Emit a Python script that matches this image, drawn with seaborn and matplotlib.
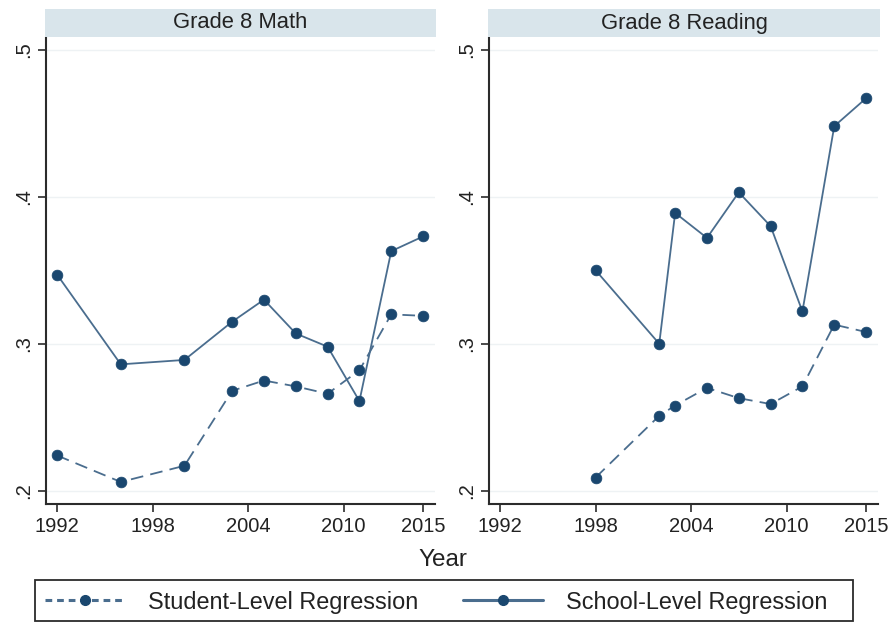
import matplotlib
matplotlib.use("Agg")
import matplotlib.pyplot as plt
from matplotlib.lines import Line2D
from matplotlib.patches import Rectangle
import pandas as pd
import seaborn as sns

# NAEP grade 8 estimates by year
math_years = [1992, 1996, 2000, 2003, 2005, 2007, 2009, 2011, 2013, 2015]
math_student = [0.224, 0.206, 0.217, 0.268, 0.275, 0.271, 0.266, 0.282, 0.320, 0.319]
math_school = [0.347, 0.286, 0.289, 0.315, 0.330, 0.307, 0.298, 0.261, 0.363, 0.373]

reading_years = [1998, 2002, 2003, 2005, 2007, 2009, 2011, 2013, 2015]
reading_student = [0.209, 0.251, 0.258, 0.270, 0.263, 0.259, 0.271, 0.313, 0.308]
reading_school = [0.350, 0.300, 0.389, 0.372, 0.403, 0.380, 0.322, 0.448, 0.467]

panels = ["Grade 8 Math", "Grade 8 Reading"]
series = ["Student-Level Regression", "School-Level Regression"]
x_ticks = [1992, 1998, 2004, 2010, 2015]
y_ticks = [0.2, 0.3, 0.4, 0.5]
y_ticklabels = [".2", ".3", ".4", ".5"]

rows = []
for panel, yrs, stu, sch in [
    (panels[0], math_years, math_student, math_school),
    (panels[1], reading_years, reading_student, reading_school),
]:
    for y, v in zip(yrs, stu):
        rows.append({"panel": panel, "Year": y, "series": series[0], "value": v})
    for y, v in zip(yrs, sch):
        rows.append({"panel": panel, "Year": y, "series": series[1], "value": v})
df = pd.DataFrame(rows)

sns.set_theme(style="white")
plt.rcParams["font.family"] = ["Liberation Sans", "DejaVu Sans"]

NAVY = "#1a476f"
LINE = "#4a6d8e"
SPINE = "#2b2b2b"
STRIP = "#d9e5eb"
GRID = "#eef2f4"
TEXT = "#222222"

W, H = 891, 623
fig = plt.figure(figsize=(W / 100, H / 100), dpi=100)

axes_px = [(46, 38, 435, 504), (489, 38, 878, 504)]
strip_px = [(45, 9, 436, 37), (488, 9, 880, 37)]

for i, panel in enumerate(panels):
    x0, y0, x1, y1 = axes_px[i]
    ax = fig.add_axes([x0 / W, 1 - y1 / H, (x1 - x0) / W, (y1 - y0) / H])
    sub = df[df["panel"] == panel]

    sns.lineplot(data=sub[sub["series"] == series[0]], x="Year", y="value",
                 ax=ax, color=LINE, lw=1.3, legend=False,
                 linestyle=(0, (7, 4)), zorder=2)
    sns.lineplot(data=sub[sub["series"] == series[1]], x="Year", y="value",
                 ax=ax, color=LINE, lw=1.3, legend=False, zorder=2)
    sns.scatterplot(data=sub, x="Year", y="value", ax=ax, color=NAVY,
                    s=60, edgecolor=NAVY, linewidth=0.5, legend=False, zorder=3)

    ax.set_xlim(1991.3, 2015.75)
    ax.set_ylim(0.191, 0.508)
    ax.set_xticks(x_ticks)
    ax.set_xticklabels([str(t) for t in x_ticks], fontsize=14.5, color=TEXT)
    ax.set_yticks(y_ticks)
    ax.set_yticklabels(y_ticklabels, fontsize=14.5, color=TEXT,
                       rotation=90, va="center")
    for yt in y_ticks:
        ax.axhline(yt, color=GRID, lw=1.0, zorder=0)
    ax.set_xlabel("")
    ax.set_ylabel("")
    for s in ["top", "right"]:
        ax.spines[s].set_visible(False)
    for s in ["left", "bottom"]:
        ax.spines[s].set_color(SPINE)
        ax.spines[s].set_linewidth(1.5)
    ax.tick_params(axis="both", which="major", direction="out", length=6,
                   width=1.2, color=SPINE, left=True, bottom=True, pad=3)

    sx0, sy0, sx1, sy1 = strip_px[i]
    fig.patches.append(Rectangle((sx0 / W, 1 - sy1 / H), (sx1 - sx0) / W,
                                 (sy1 - sy0) / H, transform=fig.transFigure,
                                 facecolor=STRIP, edgecolor="none", zorder=0))
    fig.text((sx0 + sx1) / 2 / W, 1 - 23 / H, panel,
             ha="center", va="center", fontsize=15.8, color=TEXT)

fig.text(443 / W, 1 - 560 / H, "Year", ha="center", va="center",
         fontsize=17.5, color=TEXT)

# legend entries: line with a single centred marker
handles = [
    Line2D([0, 0.5, 1], [0, 0, 0], color=LINE, lw=2.2,
           linestyle=(0, (2.2, 1.6)), marker="o", markersize=7,
           markerfacecolor=NAVY, markeredgecolor=NAVY, markevery=[1]),
    Line2D([0, 0.5, 1], [0, 0, 0], color=LINE, lw=2.2, marker="o",
           markersize=7, markerfacecolor=NAVY, markeredgecolor=NAVY,
           markevery=[1]),
]
leg = fig.legend(handles, series, loc="center left", ncol=2,
                 bbox_to_anchor=(45 / W, 1 - 602 / H),
                 fontsize=16.9, frameon=False,
                 handlelength=3.4, handletextpad=1.0, columnspacing=1.9,
                 borderaxespad=0.0, borderpad=0.0)
for t in leg.get_texts():
    t.set_color(TEXT)

# legend frame
fig.patches.append(Rectangle((35 / W, 1 - 621 / H), (853 - 35) / W, 41 / H,
                             transform=fig.transFigure, facecolor="none",
                             edgecolor=SPINE, lw=1.3, zorder=5))

fig.savefig("out.png", dpi=100, facecolor="white")
